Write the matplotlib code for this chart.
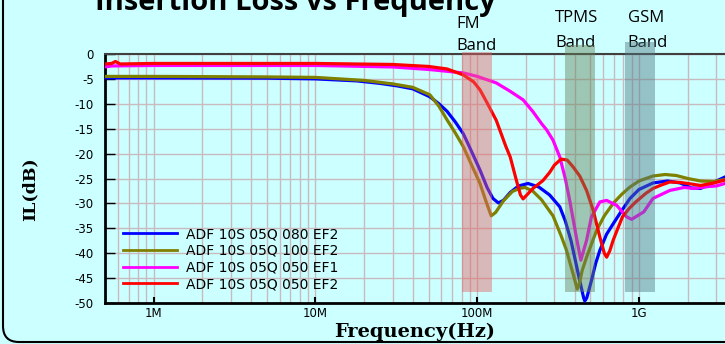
import numpy as np
import matplotlib
matplotlib.use('Agg')
import matplotlib.pyplot as plt
from matplotlib.patches import FancyBboxPatch
from matplotlib.transforms import IdentityTransform

# 데이터 (MHz, dB) - 그림에서 읽은 값
blue_f = [0.5, 1, 5, 10, 18, 25, 32, 40, 51, 58, 65, 73, 82, 92, 104, 115, 125, 135, 145, 160,
          180, 206, 240, 280, 324, 350, 380, 430, 455, 462, 475, 508, 540, 573, 630, 692, 780,
          880, 1000, 1220, 1500, 1800, 2100, 2400, 2800, 3100, 3400]
blue_db = [-4.8, -4.8, -4.85, -5.0, -5.4, -5.9, -6.4, -7.0, -8.6, -10.0, -11.5, -13.6, -16.0, -19.5,
           -23.3, -26.8, -29.0, -29.9, -29.4, -27.8, -26.5, -26.0, -26.7, -28.3, -30.7, -33.5, -37.5,
           -45.5, -49.0, -49.6, -49.0, -45.5, -42.0, -39.4, -36.2, -34.1, -31.5, -29.0, -27.2, -25.9,
           -25.5, -25.9, -26.9, -27.0, -26.0, -25.3, -24.7]

olive_f = [0.5, 1, 5, 10, 20, 30, 40, 51, 58, 65, 73, 82, 92, 104, 113, 122, 130, 145, 165, 182,
           197, 220, 250, 294, 330, 356, 390, 415, 425, 445, 474, 547, 610, 692, 780, 880, 1000,
           1220, 1450, 1700, 2000, 2400, 2900, 3400]
olive_db = [-4.5, -4.5, -4.6, -4.7, -5.3, -6.0, -6.7, -8.2, -10.5, -13.2, -15.8, -18.6, -22.2, -26.0,
            -29.5, -32.5, -31.8, -29.5, -27.6, -27.0, -26.8, -27.5, -29.3, -32.5, -36.5, -39.4, -44.0,
            -47.2, -46.5, -43.5, -40.8, -35.4, -32.5, -30.0, -28.2, -26.7, -25.5, -24.5, -24.2, -24.4,
            -25.0, -25.5, -25.6, -25.2]

magenta_f = [0.5, 0.55, 1, 10, 30, 50, 82, 100, 131, 160, 192, 220, 250, 268, 294, 324, 350, 373,
             410, 437, 474, 508, 573, 631, 728, 838, 900, 1070, 1220, 1550, 1900, 2200, 2700, 3000, 3400]
magenta_db = [-2.6, -2.4, -2.3, -2.3, -2.6, -3.1, -3.8, -4.5, -5.8, -7.5, -9.2, -11.5, -14.0, -15.2,
              -17.3, -20.7, -25.0, -29.4, -36.8, -41.4, -37.4, -32.7, -29.7, -29.4, -30.4, -32.7,
              -33.2, -31.7, -29.0, -27.4, -26.8, -27.0, -26.6, -26.5, -26.0]

red_f = [0.5, 0.55, 0.58, 0.62, 1, 10, 30, 50, 65, 82, 95, 104, 115, 131, 150, 160, 175, 185, 192,
         200, 221, 255, 280, 300, 330, 360, 392, 430, 474, 521, 573, 610, 631, 660, 692, 740, 790,
         870, 955, 1100, 1220, 1350, 1550, 1800, 2100, 2400, 2900, 3400]
red_db = [-2.0, -1.9, -1.5, -2.0, -1.9, -1.9, -2.1, -2.5, -3.0, -4.2, -5.6, -7.2, -9.8, -13.3, -18.5,
          -20.7, -25.5, -28.3, -29.1, -28.5, -27.0, -25.4, -23.8, -22.3, -21.1, -21.3, -22.7, -24.5,
          -27.4, -31.4, -36.8, -40.0, -40.8, -39.5, -37.4, -35.0, -32.7, -31.0, -29.7, -28.0, -27.0,
          -26.4, -25.7, -25.8, -26.1, -26.4, -25.9, -25.3]

labels = ['ADF 10S 05Q 080 EF2', 'ADF 10S 05Q 100 EF2', 'ADF 10S 05Q 050 EF1', 'ADF 10S 05Q 050 EF2']
colors = ['#0000ff', '#808000', '#ff00ff', '#ff0000']

# 대역 (MHz)
band_names = ['FM', 'TPMS', 'GSM']
band_lo = [80, 349, 819]
band_hi = [123, 535, 1260]
band_top = [0.4, 1.8, 2.4]
band_colors = ['#e66464', '#648259', '#507882']

xticks = [1e6, 1e7, 1e8, 1e9]
xtick_labels = ['1M', '10M', '100M', '1G']
yticks = [0, -5, -10, -15, -20, -25, -30, -35, -40, -45, -50]

bg = '#ccffff'
fig = plt.figure(figsize=(7.25, 3.44), dpi=100, facecolor=bg)
ax = fig.add_axes([105 / 725, 1 - 303 / 344, 1 - 105 / 725, (303 - 54) / 344])
ax.set_facecolor(bg)

series = [(blue_f, blue_db), (olive_f, olive_db), (magenta_f, magenta_db), (red_f, red_db)]
handles = []
for (f, db), c, lab in zip(series, colors, labels):
    ln, = ax.plot(np.array(f) * 1e6, db, color=c, lw=2.3, label=lab, zorder=3)
    handles.append(ln)

for lo, hi, top, c in zip(band_lo, band_hi, band_top, band_colors):
    ax.fill_between([lo * 1e6, hi * 1e6], -47.8, top, color=c, alpha=0.45, lw=0,
                    zorder=4, clip_on=False)

ax.set_xscale('log')
ax.set_xlim(5e5, 3.4e9)
ax.set_ylim(-50, 0)
ax.set_xticks(xticks)
ax.set_xticklabels(xtick_labels)
ax.set_yticks(yticks)
ax.set_yticklabels([str(v) for v in yticks])
ax.xaxis.set_minor_locator(matplotlib.ticker.LogLocator(base=10, subs=np.arange(2, 10)))
ax.xaxis.set_minor_formatter(matplotlib.ticker.NullFormatter())
ax.tick_params(axis='x', which='minor', length=0)
ax.tick_params(axis='x', which='major', direction='in', length=4, width=1.5, pad=3,
               labelsize=8.5)
ax.tick_params(axis='y', direction='in', length=7, width=1, pad=8, labelsize=8.5)
for t in ax.get_xticklabels() + ax.get_yticklabels():
    t.set_fontfamily('DejaVu Sans')
ax.grid(True, which='both', axis='x', color='#c9bbbd', lw=1)
ax.grid(True, which='major', axis='y', color='#c9bbbd', lw=1)
ax.set_axisbelow(True)

ax.spines['left'].set_linewidth(2)
ax.spines['bottom'].set_linewidth(2)
ax.spines['top'].set_linewidth(1.5)
ax.spines['top'].set_color('#404040')
ax.spines['right'].set_visible(False)

fig.text(415 / 725, 7 / 344, 'Frequency(Hz)', family='DejaVu Serif', weight='bold',
         fontsize=14, ha='center', va='baseline')
fig.text(30 / 725, 1 - 189 / 344, 'IL(dB)', family='DejaVu Serif', weight='bold', fontsize=12.5,
         rotation=90, ha='center', va='center')

fig.text(295 / 725, 1 - 10 / 344, 'Insertion Loss vs Frequency', family='Open Sans',
         weight='bold', fontsize=21, ha='center', va='baseline')

# 대역 이름
name_x = [74.6e6, 302e6, 851e6]
name_y1 = [344 - 28, 344 - 22, 344 - 22]
name_y2 = [344 - 50, 344 - 46.7, 344 - 46.7]
for n, x, y1, y2 in zip(band_names, name_x, name_y1, name_y2):
    ax.annotate(n, (x, y1), xycoords=('data', 'figure pixels'), family='Open Sans',
                fontsize=12, va='baseline', ha='left', annotation_clip=False)
    ax.annotate('Band', (x, y2), xycoords=('data', 'figure pixels'), family='Open Sans',
                fontsize=12, va='baseline', ha='left', annotation_clip=False)

leg = ax.legend(handles=handles, loc='upper left', bbox_to_anchor=(123 / 725, 1 - 227 / 344),
                bbox_transform=fig.transFigure, frameon=False, borderpad=0, borderaxespad=0,
                handlelength=3.9, handletextpad=0.6, labelspacing=0.2,
                prop={'family': 'DejaVu Sans', 'size': 10})
for h in leg.get_lines():
    h.set_linewidth(2)

frame = FancyBboxPatch((3, 2), 900, 500, boxstyle='round,pad=0,rounding_size=16',
                       transform=IdentityTransform(), fill=False, ec='black', lw=1.5,
                       clip_on=False)
fig.add_artist(frame)

fig.savefig('out.png', dpi=100, facecolor=bg)
